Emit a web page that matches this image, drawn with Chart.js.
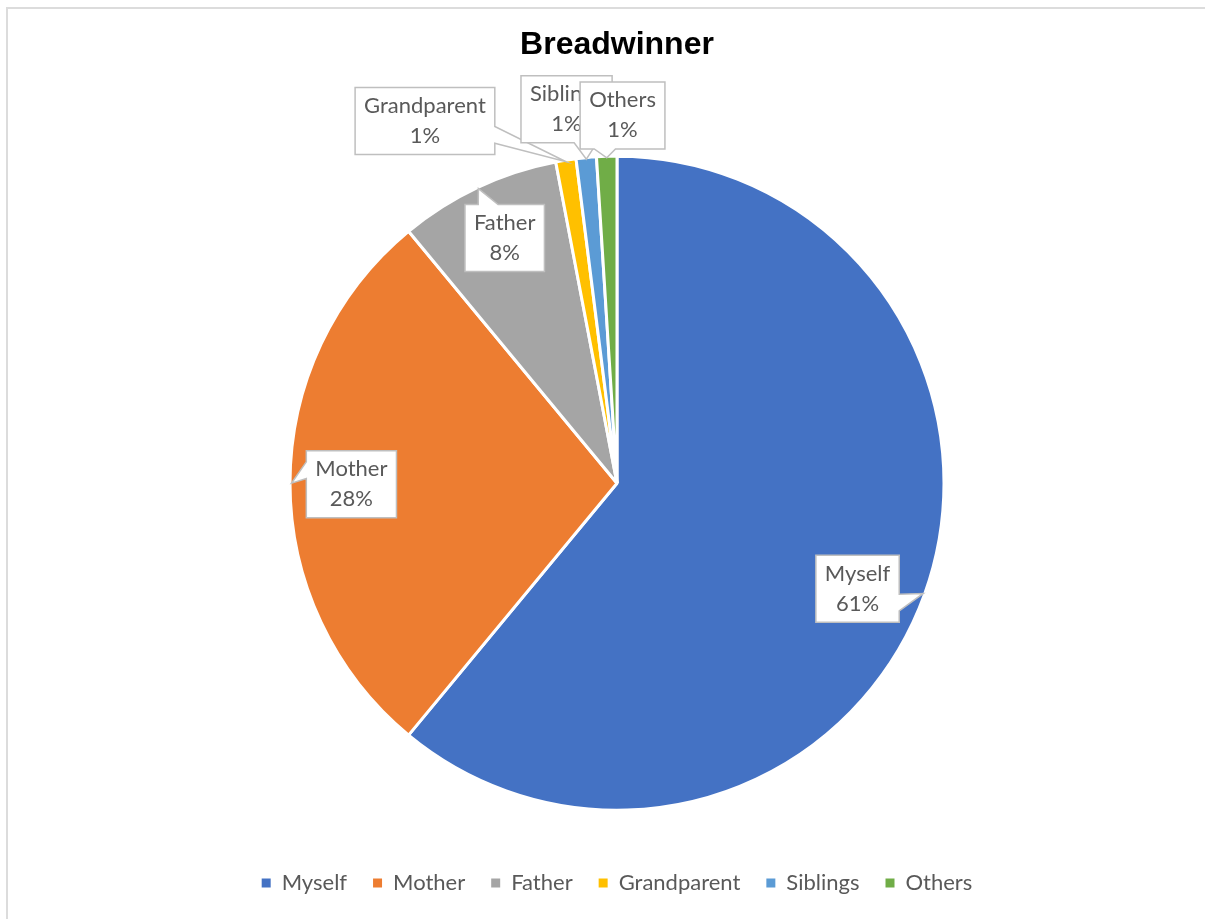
<!DOCTYPE html>
<html>
<head>
<meta charset="utf-8">
<script src="https://cdn.jsdelivr.net/npm/chart.js@4.4.1/dist/chart.umd.min.js"></script>
<style>
  html, body { margin: 0; padding: 0; background: #fff; }
  #wrap { position: relative; width: 1205px; height: 919px; overflow: hidden; }
  #frame { position: absolute; left: 6px; top: 7px; width: 1300px; height: 1000px;
           border-left: 2px solid #dcdcdc; border-top: 2px solid #dcdcdc; }
  canvas { position: absolute; left: 0; top: 0; }
</style>
</head>
<body>
<div id="wrap">
  <div id="frame"></div>
  <canvas id="breadwinner-chart" width="1205" height="919"></canvas>
</div>
<script>
var categories = ['Myself', 'Mother', 'Father', 'Grandparent', 'Siblings', 'Others'];
var shares = [61, 28, 8, 1, 1, 1];
var sliceColors = ['#4472C4', '#ED7D31', '#A5A5A5', '#FFC000', '#5B9BD5', '#70AD47'];

// callout box centres, relative to the pie centre, in units of the radius
var calloutOffsets = [
  [0.739, 0.324],
  [-0.816, 0.003],
  [-0.345, -0.753],
  [-0.590, -1.113],
  [-0.155, -1.149],
  [0.017, -1.130]
];

var labelFont = '22px Lato';

// rectangle with a wedge pointing at (tx, ty), like a spreadsheet callout
function calloutPath(ctx, x, y, w, h, tx, ty) {
  var dx = (tx - (x + w / 2)) / w;
  var dy = (ty - (y + h / 2)) / h;
  var horiz = Math.abs(dx) > Math.abs(dy);
  var a, b;
  ctx.beginPath();
  ctx.moveTo(x, y);
  if (!horiz && dy < 0) {
    a = dx < 0 ? 2 / 12 : 7 / 12; b = dx < 0 ? 5 / 12 : 10 / 12;
    ctx.lineTo(x + w * a, y); ctx.lineTo(tx, ty); ctx.lineTo(x + w * b, y);
  }
  ctx.lineTo(x + w, y);
  if (horiz && dx > 0) {
    a = dy < 0 ? 2 / 12 : 7 / 12; b = dy < 0 ? 5 / 12 : 10 / 12;
    ctx.lineTo(x + w, y + h * a); ctx.lineTo(tx, ty); ctx.lineTo(x + w, y + h * b);
  }
  ctx.lineTo(x + w, y + h);
  if (!horiz && dy >= 0) {
    a = dx < 0 ? 2 / 12 : 7 / 12; b = dx < 0 ? 5 / 12 : 10 / 12;
    ctx.lineTo(x + w * b, y + h); ctx.lineTo(tx, ty); ctx.lineTo(x + w * a, y + h);
  }
  ctx.lineTo(x, y + h);
  if (horiz && dx <= 0) {
    a = dy < 0 ? 2 / 12 : 7 / 12; b = dy < 0 ? 5 / 12 : 10 / 12;
    ctx.lineTo(x, y + h * b); ctx.lineTo(tx, ty); ctx.lineTo(x, y + h * a);
  }
  ctx.closePath();
}

var calloutLabels = {
  id: 'calloutLabels',
  afterDatasetsDraw: function(chart) {
    var ctx = chart.ctx;
    var values = chart.data.datasets[0].data;
    var total = values.reduce(function(s, v) { return s + v; }, 0);
    ctx.save();
    ctx.font = labelFont;
    chart.getDatasetMeta(0).data.forEach(function(arc, i) {
      var p = arc.getProps(['x', 'y', 'startAngle', 'endAngle', 'outerRadius'], true);
      var mid = (p.startAngle + p.endAngle) / 2;
      var r = p.outerRadius - 1.5;
      var tx = p.x + Math.cos(mid) * r;
      var ty = p.y + Math.sin(mid) * r;
      var lines = [chart.data.labels[i], Math.round(values[i] / total * 100) + '%'];
      var w = Math.max(ctx.measureText(lines[0]).width, ctx.measureText(lines[1]).width) + 18;
      var h = 67;
      var cx = p.x + calloutOffsets[i][0] * r;
      var cy = p.y + calloutOffsets[i][1] * r;
      calloutPath(ctx, cx - w / 2, cy - h / 2, w, h, tx, ty);
      ctx.fillStyle = '#fff';
      ctx.fill();
      ctx.lineWidth = 1.5;
      ctx.strokeStyle = '#bfbfbf';
      ctx.stroke();
      ctx.fillStyle = '#595959';
      ctx.textAlign = 'center';
      ctx.textBaseline = 'middle';
      ctx.fillText(lines[0], cx, cy - 15);
      ctx.fillText(lines[1], cx, cy + 15);
    });
    ctx.restore();
  }
};

var baseLabels = Chart.overrides.pie.plugins.legend.labels.generateLabels;

var breadwinnerChart = new Chart(document.getElementById('breadwinner-chart').getContext('2d'), {
  type: 'pie',
  data: {
    labels: categories,
    datasets: [{
      data: shares,
      backgroundColor: sliceColors,
      borderColor: '#fff',
      borderWidth: 3,
      radius: 327
    }]
  },
  plugins: [calloutLabels],
  options: {
    responsive: false,
    animation: false,
    layout: { padding: { left: 29, right: 0, top: 0, bottom: 15 } },
    plugins: {
      title: {
        display: true,
        text: 'Breadwinner',
        color: '#000',
        font: { family: 'Liberation Sans', size: 32, weight: 'bold' },
        padding: { top: 26, bottom: 56 }
      },
      legend: {
        position: 'bottom',
        labels: {
          color: '#595959',
          font: { family: 'Lato', size: 22 },
          usePointStyle: true,
          pointStyle: 'rect',
          boxWidth: 9,
          boxHeight: 9,
          padding: 26,
          generateLabels: function(chart) {
            return baseLabels(chart).map(function(item) {
              item.lineWidth = 0;
              item.strokeStyle = item.fillStyle;
              return item;
            });
          }
        }
      },
      tooltip: { enabled: false }
    }
  }
});
</script>
</body>
</html>
